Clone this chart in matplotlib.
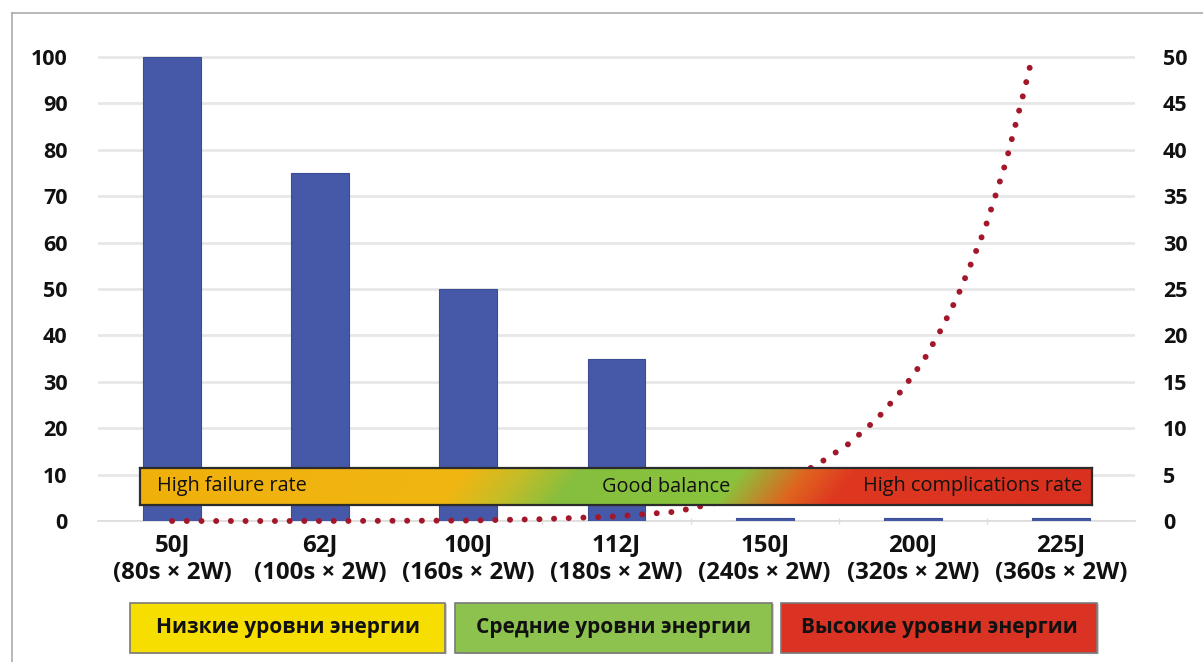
import numpy as np
import matplotlib
matplotlib.use("Agg")
import matplotlib.pyplot as plt
from matplotlib.patches import Rectangle
from matplotlib.colors import LinearSegmentedColormap
from matplotlib.lines import Line2D

plt.rcParams['font.family'] = ['Open Sans', 'DejaVu Sans']

# ---------------- data ----------------
categories = ["50J\n(80s × 2W)", "62J\n(100s × 2W)", "100J\n(160s × 2W)", "112J\n(180s × 2W)",
              "150J\n(240s × 2W)", "200J\n(320s × 2W)", "225J\n(360s × 2W)"]
failure_rate = [100, 75, 50, 35, 0.7, 0.7, 0.7]

# complication trend (right axis), position in category units
trend_pos = [0, 1, 2, 2.5, 3.0, 3.4, 3.8, 4.1, 4.348, 4.566, 4.758, 4.927, 5.073, 5.197,
             5.302, 5.395, 5.485, 5.557, 5.629, 5.687, 5.748, 5.805]
trend_val = [0, 0, 0.05, 0.2, 0.5, 1.0, 2.4, 4.1, 6.0, 8.3, 11.0, 14.1, 17.3, 20.8,
             24.2, 27.8, 31.4, 35.0, 38.7, 42.3, 46.1, 49.9]

left_ticks = [0, 10, 20, 30, 40, 50, 60, 70, 80, 90, 100]
right_ticks = [0, 5, 10, 15, 20, 25, 30, 35, 40, 45, 50]

band_labels = ["High failure rate", "Good balance", "High complications rate"]
zone_labels = ["Низкие уровни энергии", "Средние уровни энергии", "Высокие уровни энергии"]
zone_colors = ["#F6DF00", "#8DC24F", "#DA3324"]

# ---------------- figure ----------------
W, H = 1203, 662
fig = plt.figure(figsize=(W / 100, H / 100), dpi=100)
fig.patch.set_facecolor("white")

def fx(px):
    return px / W

def fy(py):
    return 1 - py / H

ax = fig.add_axes([fx(98), fy(521), fx(1135) - fx(98), fy(47.7) - fy(521)])
ax2 = ax.twinx()

x = np.arange(len(categories))
ax.bar(x, failure_rate, width=0.39, color="#4659A8", edgecolor="#3A4C94", linewidth=0.8, zorder=3)
ax.set_xlim(-0.5, 6.5)
ax.set_ylim(0, 102)
ax2.set_ylim(0, 51)

ax.set_yticks(left_ticks)
ax2.set_yticks(right_ticks)
ax.yaxis.grid(True, color="#E6E6E6", linewidth=1.9, zorder=0)
ax.set_axisbelow(True)

for a in (ax, ax2):
    for s in a.spines.values():
        s.set_visible(False)
ax.spines['bottom'].set_visible(True)
ax.spines['bottom'].set_color("#DCDCDC")
ax.spines['bottom'].set_linewidth(1.2)

ax.tick_params(axis='y', length=0, pad=22, labelsize=15.5, labelcolor="#111111")
ax2.tick_params(axis='y', length=0, pad=20, labelsize=15.5, labelcolor="#111111")
for lab in ax.get_yticklabels() + ax2.get_yticklabels():
    lab.set_fontweight("bold")

ax.set_xticks(x)
ax.set_xticklabels(categories, fontsize=17.3, linespacing=1.2, color="#111111")
for lab in ax.get_xticklabels():
    lab.set_fontweight("bold")
ax.tick_params(axis='x', length=0, pad=9)
ax.set_xticks(np.arange(-0.5, 7, 1)[1:-1], minor=True)
ax.tick_params(axis='x', which='minor', length=4, color="#DCDCDC", width=1, direction='inout')

ax2.set_zorder(ax.get_zorder() + 1)
ax2.patch.set_visible(False)
ax2.plot(trend_pos, trend_val, color="#A3172B", linewidth=4.3,
         linestyle=(0, (0.01, 2.45)), dash_capstyle='round', clip_on=False, zorder=4)

# ---------------- gradient band ----------------
bx0, bx1, by0, by1 = 140, 1092, 468, 505
bax = fig.add_axes([fx(bx0), fy(by1), fx(bx1) - fx(bx0), fy(by0) - fy(by1)])
bax.set_zorder(10)
cmap = LinearSegmentedColormap.from_list("band", [
    (0.00, "#F0B00C"), (0.33, "#F0B612"), (0.39, "#C4BD28"), (0.45, "#86BF3E"),
    (0.62, "#8AC33C"), (0.69, "#E0641F"), (0.74, "#DE3821"), (1.00, "#D9301F")])
gx = np.linspace(0, 1, 600)
gy = np.linspace(0, 1, 40)
GX, GY = np.meshgrid(gx, gy)
T = np.clip(GX - 0.03 * (GY - 0.5), 0, 1)
bax.imshow(T, cmap=cmap, aspect='auto', extent=(0, 1, 0, 1), origin='lower', vmin=0, vmax=1)
bax.set_xlim(0, 1)
bax.set_ylim(0, 1)
bax.set_xticks([])
bax.set_yticks([])
for s in bax.spines.values():
    s.set_color("#2B2B2B")
    s.set_linewidth(1.6)
bax.text(0.018, 0.5, band_labels[0], ha='left', va='center', fontsize=14.3, color="#111111")
bax.text(0.553, 0.5, band_labels[1], ha='center', va='center', fontsize=14.3, color="#111111")
bax.text(0.99, 0.5, band_labels[2], ha='right', va='center', fontsize=14.3, color="#111111")

# ---------------- zone boxes ----------------
boxes = [(130, 445), (455, 772), (781, 1097)]
for (x0, x1), lab, col in zip(boxes, zone_labels, zone_colors):
    shadow = Rectangle((fx(x0) + 0.002, fy(654)), fx(x1) - fx(x0), fy(603) - fy(653),
                       transform=fig.transFigure, facecolor="#CCCCCC", edgecolor="none", zorder=1)
    fig.add_artist(shadow)
    r = Rectangle((fx(x0), fy(653)), fx(x1) - fx(x0), fy(603) - fy(653),
                  transform=fig.transFigure, facecolor=col, edgecolor="#7A7A7A", linewidth=1.2, zorder=2)
    fig.add_artist(r)
    fig.text((fx(x0) + fx(x1)) / 2, fy(628), lab, ha='center', va='center', fontsize=15,
             fontweight='bold', color="#111111", zorder=3)

# ---------------- frame ----------------
fig.add_artist(Line2D([fx(12), 1], [fy(13), fy(13)], transform=fig.transFigure, color="#ABABAB", linewidth=1.2))
fig.add_artist(Line2D([fx(12), fx(12)], [0, fy(13)], transform=fig.transFigure, color="#ABABAB", linewidth=1.2))

fig.savefig("out.png", dpi=100)
